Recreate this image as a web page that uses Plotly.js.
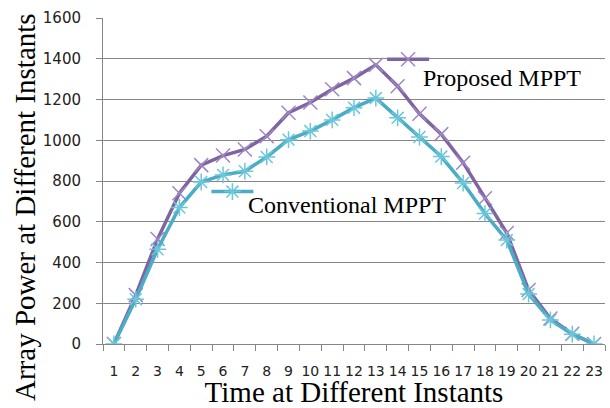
<!DOCTYPE html>
<html>
<head>
<meta charset="utf-8">
<script src="https://cdn.plot.ly/plotly-3.0.1.min.js"></script>
<style>html,body{margin:0;padding:0;background:#fff;}#chart{width:610px;height:408px;}</style>
</head>
<body>
<div id="chart"></div>
<script>
const categories = ['1','2','3','4','5','6','7','8','9','10','11','12','13','14','15','16','17','18','19','20','21','22','23'];
const proposedValues = [0, 240, 515, 740, 878, 925, 955, 1020, 1135, 1185, 1250, 1305, 1370, 1265, 1130, 1030, 890, 715, 545, 265, 125, 50, 0];
const conventionalValues = [0, 220, 465, 670, 795, 830, 848, 918, 1003, 1045, 1100, 1160, 1207, 1110, 1016, 920, 790, 640, 510, 245, 118, 48, 0];
const seriesNames = ['Proposed MPPT', 'Conventional MPPT'];
const xTitle = 'Time at Different Instants';
const yTitle = 'Array Power at Different Instants';

const purple = '#8064A2';
const aqua = '#4BACC6';

const traces = [
  {
    x: categories, y: proposedValues, type: 'scatter', mode: 'lines+markers',
    name: '', legend: 'legend',
    line: {color: purple, width: 3.5},
    marker: {symbol: 'x-thin-open', size: 14, color: '#9E88C2', line: {color: '#9E88C2', width: 1.5}}
  },
  {
    x: categories, y: conventionalValues, type: 'scatter', mode: 'lines+markers',
    name: '', legend: 'legend2',
    line: {color: aqua, width: 3.5},
    marker: {symbol: 'asterisk-open', size: 14, color: '#6CC6DA', line: {color: '#6CC6DA', width: 1.5}}
  }
];

const layout = {
  width: 610, height: 408,
  margin: {l: 103, r: 5, t: 18, b: 64},
  paper_bgcolor: '#fff', plot_bgcolor: '#fff',
  showlegend: true,
  legend: {x: 0.556, y: 0.918, xanchor: 'left', yanchor: 'top', bgcolor: 'rgba(0,0,0,0)', itemwidth: 42, font: {size: 10}},
  legend2: {x: 0.206, y: 0.512, xanchor: 'left', yanchor: 'top', bgcolor: 'rgba(0,0,0,0)', itemwidth: 42, font: {size: 10}},
  xaxis: {
    type: 'category', range: [-0.5, categories.length - 0.5], autorange: false,
    tickson: 'boundaries', ticks: 'outside', ticklen: 6, tickcolor: '#868686',
    showline: true, linecolor: '#868686', linewidth: 1, showgrid: false, zeroline: false,
    tickangle: 0, ticklabelstandoff: 14,
    tickfont: {family: 'DejaVu Sans', size: 14, color: '#222'},
    title: {text: xTitle, font: {family: 'Liberation Serif', size: 29, color: '#000'}, standoff: 8}
  },
  yaxis: {
    range: [0, 1600], dtick: 200, ticks: 'outside', ticklen: 6, tickcolor: '#868686',
    showline: true, linecolor: '#868686', linewidth: 1, showgrid: true, gridcolor: '#868686', gridwidth: 1,
    zeroline: false, ticklabelstandoff: 12,
    tickfont: {family: 'DejaVu Sans', size: 15, color: '#222'}
  },
  annotations: [
    {xref: 'paper', yref: 'paper', x: (421 - 103) / 502, y: (344 - 78) / 326, xanchor: 'left', yanchor: 'middle',
     text: seriesNames[0], showarrow: false, font: {family: 'Liberation Serif', size: 24, color: '#000'}},
    {xref: 'paper', yref: 'paper', x: (246 - 103) / 502, y: (344 - 205) / 326, xanchor: 'left', yanchor: 'middle',
     text: seriesNames[1], showarrow: false, font: {family: 'Liberation Serif', size: 24, color: '#000'}},
    {xref: 'paper', yref: 'paper', x: (25 - 103) / 502, y: (344 - 207) / 326, xanchor: 'center', yanchor: 'middle',
     textangle: -90, text: yTitle, showarrow: false, font: {family: 'Liberation Serif', size: 29, color: '#000'}}
  ]
};

Plotly.newPlot('chart', traces, layout, {displayModeBar: false, staticPlot: true});
</script>
</body>
</html>
